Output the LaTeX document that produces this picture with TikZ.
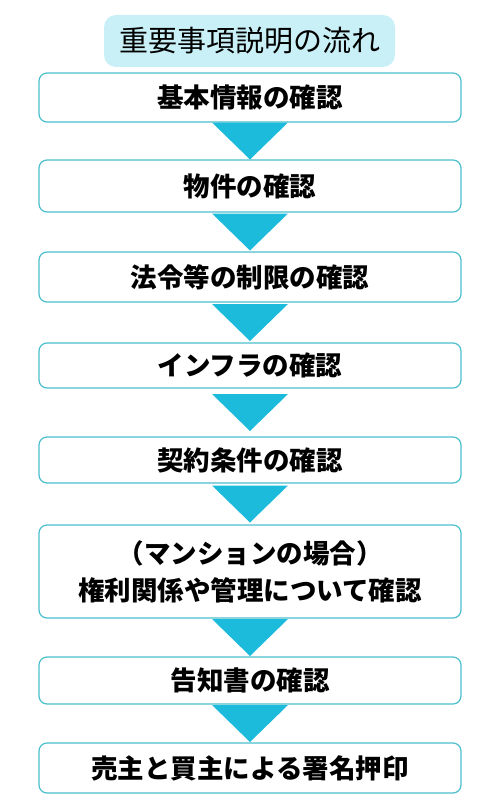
\documentclass[tikz,border=0pt]{standalone}
\usepackage{fontspec}
\setmainfont{Noto Sans CJK JP}
\usetikzlibrary{calc}
\definecolor{boxline}{RGB}{75,190,205}
\definecolor{arrowfill}{RGB}{29,187,219}
\definecolor{titlefill}{RGB}{200,240,246}
\begin{document}
\begin{tikzpicture}[x=1pt,y=-1pt,
    box/.style={draw=boxline,line width=1.2pt,rounded corners=8pt,fill=white,
        minimum width=422pt,inner sep=0pt,align=center,
        font=\fontsize{26.5}{37}\selectfont\bfseries},
    titlebox/.style={fill=titlefill,rounded corners=12pt,minimum width=291pt,
        minimum height=52pt,inner sep=0pt,font=\fontsize{29}{34}\selectfont},
    tri/.style={fill=arrowfill}]
    \useasboundingbox (0,0) rectangle (500,800);
    \node[titlebox] (title) at (249.5,41) {重要事項説明の流れ};
    \node[box,minimum height=49pt] (b1) at (250,97.5) {基本情報の確認};
    \node[box,minimum height=52pt] (b2) at (250,186) {物件の確認};
    \node[box,minimum height=50pt] (b3) at (250,277) {法令等の制限の確認};
    \node[box,minimum height=45pt] (b4) at (250,365.5) {インフラの確認};
    \node[box,minimum height=46pt] (b5) at (250,460) {契約条件の確認};
    \node[box,minimum height=93pt] (b6) at (250,571.5) {（マンションの場合）\\権利関係や管理について確認};
    \node[box,minimum height=47pt] (b7) at (250,680.5) {告知書の確認};
    \node[box,minimum height=50pt] (b8) at (250,768) {売主と買主による署名押印};
    % triangles between the steps
    \foreach \a/\b in {b1/b2,b2/b3,b3/b4,b4/b5,b5/b6,b6/b7,b7/b8}
        \fill[tri] ($(\a.south)!0.5!(\b.north)$) ++(-38,-18.5) -- ++(76,0) -- ++(-38,37) -- cycle;
\end{tikzpicture}
\end{document}
